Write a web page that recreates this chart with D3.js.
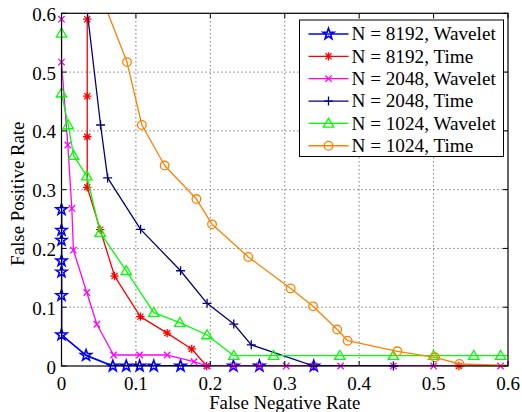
<!DOCTYPE html>
<html>
<head>
<meta charset="utf-8">
<script src="https://cdn.jsdelivr.net/npm/d3@7"></script>
<style>
  html, body { margin: 0; padding: 0; background: #fff; }
  svg { display: block; }
</style>
</head>
<body>
<svg id="chart" width="522" height="412"></svg>
<script>
// Tick positions and labels (both axes share the same range)
const xTickValues = [0, 0.1, 0.2, 0.3, 0.4, 0.5, 0.6];
const yTickValues = [0, 0.1, 0.2, 0.3, 0.4, 0.5, 0.6];
const tickLabels = ["0", "0.1", "0.2", "0.3", "0.4", "0.5", "0.6"];

const xAxisTitle = "False Negative Rate";
const yAxisTitle = "False Positive Rate";

const seriesLabels = [
  "N = 8192, Wavelet",
  "N = 8192, Time",
  "N = 2048, Wavelet",
  "N = 2048, Time",
  "N = 1024, Wavelet",
  "N = 1024, Time"
];

// [false negative rate, false positive rate] pairs for each detector
const wavelet8192 = [
  [0, 0.266], [0, 0.231], [0, 0.214], [0, 0.179], [0, 0.160], [0, 0.120],
  [0, 0.053], [0.033, 0.018], [0.069, 0], [0.087, 0], [0.105, 0], [0.124, 0],
  [0.160, 0], [0.231, 0], [0.266, 0], [0.339, 0]
];
const time8192 = [
  [0.0346, 0.590], [0.0346, 0.459], [0.0346, 0.390], [0.0346, 0.304],
  [0.052, 0.232], [0.0713, 0.153], [0.106, 0.084], [0.142, 0.056],
  [0.175, 0.029], [0.195, 0], [0.534, 0]
];
const wavelet2048 = [
  [0, 0.590], [0, 0.517], [0.0085, 0.376], [0.0139, 0.268], [0.016, 0.197],
  [0.034, 0.125], [0.0475, 0.071], [0.070, 0.0187], [0.105, 0.0187],
  [0.142, 0.0187], [0.178, 0.0073], [0.196, 0], [0.231, 0], [0.266, 0],
  [0.302, 0], [0.339, 0], [0.375, 0], [0.446, 0], [0.500, 0], [0.590, 0]
];
const time2048 = [
  [0.033, 0.62], [0.0525, 0.410], [0.062, 0.320], [0.1063, 0.2325],
  [0.160, 0.162], [0.1956, 0.1066], [0.2315, 0.0714], [0.255, 0.036],
  [0.339, 0], [0.446, 0]
];
const wavelet1024 = [
  [0, 0.566], [0, 0.464], [0.009, 0.410], [0.0163, 0.358], [0.034, 0.323],
  [0.052, 0.227], [0.087, 0.162], [0.124, 0.0907], [0.159, 0.0737],
  [0.1956, 0.0527], [0.2315, 0.0176], [0.285, 0.0176], [0.374, 0.0176],
  [0.446, 0.0176], [0.500, 0.0176], [0.554, 0.0176], [0.590, 0.0176],
  [0.63, 0.0176]
];
const time1024 = [
  [0.047, 0.65], [0.088, 0.517], [0.108, 0.410], [0.1386, 0.341],
  [0.1813, 0.284], [0.2023, 0.241], [0.251, 0.1855], [0.308, 0.132],
  [0.338, 0.1015], [0.3705, 0.062], [0.3845, 0.043], [0.4513, 0.025],
  [0.502, 0.0148], [0.5347, 0.0034], [0.63, 0]
];

const seriesData = [wavelet8192, time8192, wavelet2048, time2048, wavelet1024, time1024];
const seriesColors = ["#0000FF", "#FF0000", "#FF00FF", "#00007F", "#00FF00", "#FF8000"];
const seriesMarkers = ["pentagram", "asterisk", "cross", "plus", "triangle", "circle"];

const FONT = "Liberation Serif";

const svg = d3.select("#chart").style("font-family", FONT);
const plot = { left: 61.5, right: 508, top: 13.3, bottom: 366 };

const x = d3.scaleLinear().domain([0, 0.6]).range([plot.left, plot.right]);
const y = d3.scaleLinear().domain([0, 0.6]).range([plot.bottom, plot.top]);

// Marker glyphs drawn around the origin
function markerPath(kind) {
  const p = d3.path();
  if (kind === "pentagram") {
    const R = 5.8, r = R * 0.40;
    for (let i = 0; i < 10; i++) {
      const a = -Math.PI / 2 + i * Math.PI / 5;
      const rad = i % 2 === 0 ? R : r;
      const px = rad * Math.cos(a), py = rad * Math.sin(a);
      if (i === 0) p.moveTo(px, py); else p.lineTo(px, py);
    }
    p.closePath();
  } else if (kind === "asterisk") {
    const s = 4.2, d = s * 0.72;
    p.moveTo(-s, 0); p.lineTo(s, 0);
    p.moveTo(0, -s); p.lineTo(0, s);
    p.moveTo(-d, -d); p.lineTo(d, d);
    p.moveTo(-d, d); p.lineTo(d, -d);
  } else if (kind === "cross") {
    const s = 3.2;
    p.moveTo(-s, -s); p.lineTo(s, s);
    p.moveTo(-s, s); p.lineTo(s, -s);
  } else if (kind === "plus") {
    const s = 4.5;
    p.moveTo(-s, 0); p.lineTo(s, 0);
    p.moveTo(0, -s); p.lineTo(0, s);
  } else if (kind === "triangle") {
    const s = 5.2;
    p.moveTo(0, -s); p.lineTo(s, s * 0.72); p.lineTo(-s, s * 0.72); p.closePath();
  } else if (kind === "circle") {
    p.moveTo(4.3, 0); p.arc(0, 0, 4.3, 0, 2 * Math.PI);
  }
  return p.toString();
}

// Grid lines (dotted)
const grid = svg.append("g");
xTickValues.slice(1, -1).forEach(v => {
  grid.append("line")
    .attr("x1", x(v)).attr("x2", x(v))
    .attr("y1", plot.top).attr("y2", plot.bottom)
    .attr("stroke", "#444").attr("stroke-width", 1)
    .attr("stroke-dasharray", "1,3");
});
yTickValues.slice(1, -1).forEach(v => {
  grid.append("line")
    .attr("x1", plot.left).attr("x2", plot.right)
    .attr("y1", y(v)).attr("y2", y(v))
    .attr("stroke", "#444").attr("stroke-width", 1)
    .attr("stroke-dasharray", "1,3");
});

// Clip for curves
svg.append("clipPath").attr("id", "plotClip")
  .append("rect")
  .attr("x", plot.left).attr("y", plot.top)
  .attr("width", plot.right - plot.left).attr("height", plot.bottom - plot.top);

const line = d3.line().x(d => x(d[0])).y(d => y(d[1]));

seriesData.forEach((data, i) => {
  const g = svg.append("g");
  g.append("path")
    .datum(data)
    .attr("d", line)
    .attr("clip-path", "url(#plotClip)")
    .attr("fill", "none")
    .attr("stroke", seriesColors[i])
    .attr("stroke-width", i === 0 ? 1.8 : 1.3)
    .attr("stroke-linejoin", "round");
  g.selectAll("path.marker")
    .data(data.filter(d => d[0] <= 0.6 + 1e-9 && d[1] <= 0.6 + 1e-9))
    .join("path")
    .attr("class", "marker")
    .attr("transform", d => `translate(${x(d[0])},${y(d[1])})`)
    .attr("d", markerPath(seriesMarkers[i]))
    .attr("fill", "none")
    .attr("stroke", seriesColors[i])
    .attr("stroke-width", seriesMarkers[i] === "pentagram" ? 1.6 : 1.3);
});

// Axes box with inward ticks on all four sides
const axes = svg.append("g");
axes.append("rect")
  .attr("x", plot.left).attr("y", plot.top)
  .attr("width", plot.right - plot.left).attr("height", plot.bottom - plot.top)
  .attr("fill", "none").attr("stroke", "#000").attr("stroke-width", 1.2);

const tickLen = 5;
xTickValues.forEach(v => {
  axes.append("line").attr("x1", x(v)).attr("x2", x(v))
    .attr("y1", plot.bottom).attr("y2", plot.bottom - tickLen)
    .attr("stroke", "#000");
  axes.append("line").attr("x1", x(v)).attr("x2", x(v))
    .attr("y1", plot.top).attr("y2", plot.top + tickLen)
    .attr("stroke", "#000");
});
yTickValues.forEach(v => {
  axes.append("line").attr("x1", plot.left).attr("x2", plot.left + tickLen)
    .attr("y1", y(v)).attr("y2", y(v)).attr("stroke", "#000");
  axes.append("line").attr("x1", plot.right).attr("x2", plot.right - tickLen)
    .attr("y1", y(v)).attr("y2", y(v)).attr("stroke", "#000");
});

// Tick labels
svg.append("g").selectAll("text")
  .data(xTickValues)
  .join("text")
  .attr("x", d => x(d))
  .attr("y", 390)
  .attr("text-anchor", "middle")
  .attr("font-size", 19)
  .text((d, i) => tickLabels[i]);

svg.append("g").selectAll("text")
  .data(yTickValues)
  .join("text")
  .attr("x", 56)
  .attr("y", d => y(d) + 7.5)
  .attr("text-anchor", "end")
  .attr("font-size", 19)
  .text((d, i) => tickLabels[i]);

// Axis titles
svg.append("text")
  .attr("x", (plot.left + plot.right) / 2)
  .attr("y", 408.5)
  .attr("text-anchor", "middle")
  .attr("font-size", 18.8)
  .text(xAxisTitle);

svg.append("text")
  .attr("transform", `translate(23.5,${(plot.top + plot.bottom) / 2 + 4}) rotate(-90)`)
  .attr("text-anchor", "middle")
  .attr("font-size", 18.8)
  .text(yAxisTitle);

// Legend
const legend = svg.append("g");
legend.append("rect")
  .attr("x", 299.5).attr("y", 20)
  .attr("width", 204).attr("height", 136.5)
  .attr("fill", "#fff").attr("stroke", "#000").attr("stroke-width", 1);

const rowY0 = 34, rowStep = 22.35;
seriesLabels.forEach((label, i) => {
  const ry = rowY0 + i * rowStep;
  legend.append("line")
    .attr("x1", 308.5).attr("x2", 348.5)
    .attr("y1", ry).attr("y2", ry)
    .attr("stroke", seriesColors[i]).attr("stroke-width", 1.3);
  legend.append("path")
    .attr("transform", `translate(328.5,${ry})`)
    .attr("d", markerPath(seriesMarkers[i]))
    .attr("fill", "none")
    .attr("stroke", seriesColors[i])
    .attr("stroke-width", seriesMarkers[i] === "pentagram" ? 1.6 : 1.3);
  legend.append("text")
    .attr("x", 351.5)
    .attr("y", ry + 6.2)
    .attr("font-size", 19.2)
    .text(label);
});
</script>
</body>
</html>
